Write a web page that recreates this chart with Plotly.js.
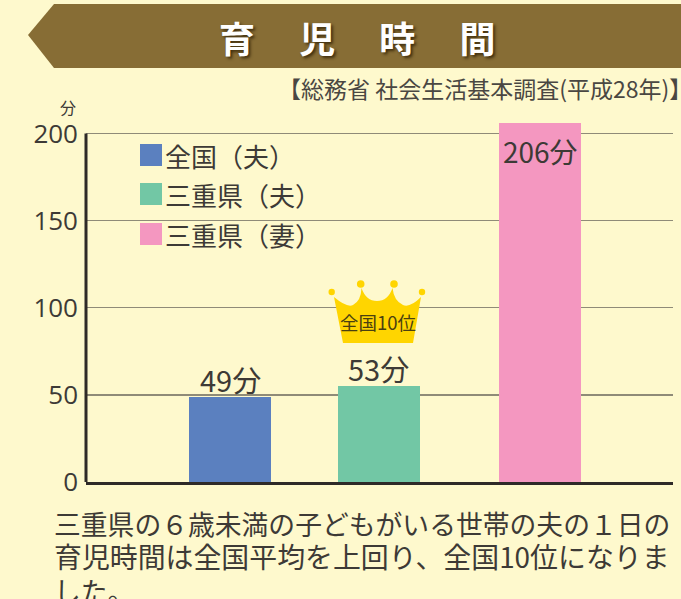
<!DOCTYPE html>
<html>
<head>
<meta charset="utf-8">
<script src="https://cdn.plot.ly/plotly-3.0.1.min.js"></script>
<style>html,body{margin:0;padding:0;background:#FEF9CD;overflow:hidden}</style>
</head>
<body>
<div id="chart" style="width:681px;height:599px"></div>
<script>
const categories = ['全国（夫）', '三重県（夫）', '三重県（妻）'];
const barPositions = [1, 2, 3.09];
const barValues = [48.5, 55, 206];
const barLabels = ['49分', '53分', '206分'];
const barColors = ['#5B80BF', '#72C7A5', '#F497C0'];
const yTicks = [0, 50, 100, 150, 200];
const titleText = '育　 児　 時　 間';
const sourceText = '【総務省 社会生活基本調査(平成28年)】';
const crownText = '全国10位';
const unitText = '分';
const bodyLines = [
  '三重県の６歳未満の子どもがいる世帯の夫の１日の',
  '育児時間は全国平均を上回り、全国10位になりま',
  'した。'
];

const W = 681, H = 599;
const m = {l: 86, r: 8, t: 123, b: 117};
const font = '"Noto Sans CJK JP", "Noto Sans", sans-serif';
const ink = '#3D3A36';
const px = x => (x - m.l) / (W - m.l - m.r);
const py = y => 1 - (y - m.t) / (H - m.t - m.b);
const P = (x, y) => px(x).toFixed(5) + ',' + py(y).toFixed(5);

function note(text, x, y, size, color, anchor, extra) {
  return Object.assign({
    text, x: px(x), y: py(y), xref: 'paper', yref: 'paper',
    xanchor: anchor || 'left', yanchor: 'middle', showarrow: false,
    font: {family: font, size, color}
  }, extra || {});
}
function poly(d, color) {
  return {type: 'path', xref: 'paper', yref: 'paper', path: d,
          fillcolor: color, line: {width: 0}, layer: 'above'};
}
function ball(cx, cy, r, color) {
  return {type: 'circle', xref: 'paper', yref: 'paper',
          x0: px(cx - r), x1: px(cx + r), y0: py(cy + r), y1: py(cy - r),
          fillcolor: color, line: {width: 0}, layer: 'above'};
}

const shapes = [];
// header banner
shapes.push(poly(`M${P(28,35)} L${P(54,4)} L${P(681,4)} L${P(681,68)} L${P(54,68)} Z`, '#876D35'));
// y axis line stops at the top tick
shapes.push({type: 'line', xref: 'x domain', yref: 'y', x0: 0, x1: 0, y0: 0, y1: yTicks[yTicks.length - 1],
             line: {color: '#2E2A27', width: 3}, layer: 'above'});
// legend swatches
const legendY = [155, 194, 234];
categories.forEach((c, i) => {
  shapes.push({type: 'rect', xref: 'paper', yref: 'paper',
    x0: px(140), x1: px(162), y0: py(legendY[i] + 11), y1: py(legendY[i] - 11),
    fillcolor: barColors[i], line: {width: 0}, layer: 'above'});
});
// crown
const gold = '#FFD500';
shapes.push(poly(
  `M${P(334,297)} Q${P(347,308)} ${P(353,305)} Q${P(361,301)} ${P(361.5,288)} ` +
  `Q${P(366,301)} ${P(377,301)} Q${P(388,301)} ${P(392.5,288)} ` +
  `Q${P(394,301)} ${P(403,305)} Q${P(410,308)} ${P(421,297)} ` +
  `L${P(413,343)} L${P(343,343)} Z`, gold));
shapes.push(ball(331.7, 292, 3.2, gold), ball(360.7, 284, 3.8, gold),
            ball(394, 284, 3.8, gold), ball(422, 292, 3.2, gold));

const annotations = [
  note(titleText, 357, 37, 36, '#FFFFFF', 'center',
       {font: {family: font, size: 36, color: '#FFFFFF', weight: 700,
               shadow: '2px 2px 3px rgba(40,25,0,0.75)'}}),
  note(sourceText, 694, 88, 23, '#4A4742', 'right'),
  note(unitText, 68, 107, 16, ink, 'center'),
  note(crownText, 378, 322, 18.5, '#4A4010', 'center')
];
categories.forEach((c, i) => annotations.push(note(c, 163, legendY[i], 26, ink)));
const bodyY = [523, 556, 590];
const bodySize = [26.8, 27.9, 26.8];
bodyLines.forEach((t, i) => annotations.push(note(t, 52, bodyY[i], bodySize[i], ink)));
// value labels sit on the bars, through the data axes
const labelShift = [18, 18, -28];
const labelSize = [29, 29, 28];
barLabels.forEach((t, i) => annotations.push({
  text: t, x: barPositions[i], y: barValues[i], xref: 'x', yref: 'y',
  xanchor: 'center', yanchor: 'middle', yshift: labelShift[i], showarrow: false,
  font: {family: font, size: labelSize[i], color: ink}
}));

const trace = {
  type: 'bar',
  x: barPositions,
  y: barValues,
  width: 0.552,
  marker: {color: barColors, line: {width: 0}},
  hoverinfo: 'skip'
};

const layout = {
  width: W, height: H,
  margin: m,
  paper_bgcolor: '#FEF9CD',
  plot_bgcolor: '#FEF9CD',
  showlegend: false,
  bargap: 0,
  xaxis: {
    range: [0.0303, 3.983], showgrid: false, zeroline: false,
    showticklabels: false, ticks: '',
    showline: true, linecolor: '#2E2A27', linewidth: 3
  },
  yaxis: {
    range: [0, 206], tickvals: yTicks, ticktext: yTicks.map(String),
    showgrid: true, gridcolor: '#8F8B78', gridwidth: 1.4,
    zeroline: false, ticks: '', ticklabelstandoff: 7,
    tickfont: {family: '"Open Sans", "Noto Sans", sans-serif', size: 26, color: ink},
    showline: false
  },
  shapes, annotations
};

Plotly.newPlot('chart', [trace], layout, {displayModeBar: false, staticPlot: true});
</script>
</body>
</html>
